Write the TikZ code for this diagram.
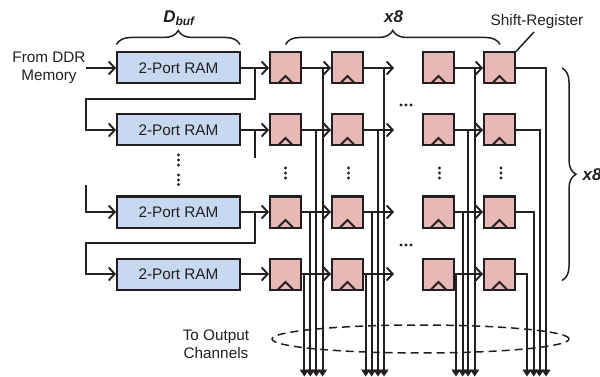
\documentclass[tikz,border=0pt]{standalone}
\usepackage{fontspec}
\setmainfont{Liberation Sans}
\usepackage{xcolor}
\usetikzlibrary{arrows.meta,decorations.pathreplacing,shapes.geometric}
\definecolor{ramblue}{HTML}{C6D9F0}
\definecolor{regpink}{HTML}{E6B9B4}
\definecolor{inkgray}{HTML}{231F20}

\begin{document}
\begin{tikzpicture}[x=1pt, y=-1pt, inkgray, font=\fontsize{15.3}{18}\selectfont, text=inkgray,
    ram/.style={draw=inkgray, fill=ramblue, line width=2pt, minimum width=123pt, minimum height=31pt, inner sep=0pt},
    reg/.style={draw=inkgray, fill=regpink, line width=2pt, minimum size=31pt, inner sep=0pt},
    wire/.style={line width=2pt},
    into/.style={wire, -{Straight Barb[length=6pt,width=13pt,line width=1.9pt]}},
    outbus/.style={wire, -{Triangle[length=7pt,width=9pt]}},
    curly/.style={line width=1.5pt, decorate, decoration={brace, amplitude=14pt}},
    lab/.style={align=center, inner sep=0pt}
]
\useasboundingbox (0,0) rectangle (600,377);

% RAMs and registers
\node[ram] (ram1) at (178.5, 68) {2-Port RAM};
\node[ram] (ram2) at (178.5, 130) {2-Port RAM};
\node[ram] (ram3) at (178.5, 212) {2-Port RAM};
\node[ram] (ram4) at (178.5, 274) {2-Port RAM};
\foreach \r/\y in {1/68, 2/130, 3/212, 4/274} {
    \foreach \c/\x in {1/285.5, 2/347.5, 3/438.5, 4/499.5} {
        \node[reg] (reg\r\c) at (\x, \y) {};
        \draw[line width=2pt] (\x-7.5, \y+15.5) -- (\x, \y+8) -- (\x+7.5, \y+15.5);
    }
}

% free wire ends
\foreach \r/\xa/\xb/\xc/\xd in {1/322.5/384/474.7/546, 2/316.3/378/468/539.5, 3/310.3/371.7/462.7/533.7, 4/304.3/365.7/456/527} {
    \coordinate (out\r1) at (\xa, 376.5);
    \coordinate (out\r2) at (\xb, 376.5);
    \coordinate (out\r3) at (\xc, 376.5);
    \coordinate (out\r4) at (\xd, 376.5);
    \draw[outbus] (reg\r1.east) -| (out\r1);
    \draw[outbus] (reg\r2.east) -| (out\r2);
    \draw[outbus] (reg\r3.east) -| (out\r3);
    \draw[outbus] (reg\r4.east) -| (out\r4);
}
\foreach \r/\y in {1/68, 2/130, 3/212, 4/274} {
    \coordinate (open\r) at (394, \y);
    \draw[into] (ram\r) -- (reg\r1);
    \draw[into] (reg\r1) -- (reg\r2);
    \draw[into] (reg\r2) -- (open\r);
    \draw[into] (reg\r3) -- (reg\r4);
}

% input and cascade
\node[lab] (ddr) at (49, 68) {From DDR\\Memory};
\draw[into] (ddr.east |- ram1) -- (ram1);
\coordinate (tap1) at (255, 68);
\coordinate (tap2) at (255, 130);
\coordinate (tap3) at (255, 212);
\coordinate (stub2) at (255, 158);
\coordinate (stub3) at (86, 185);
\draw[into] (tap1) |- (86, 99) |- (ram2);
\draw[wire] (tap2) -- (stub2);
\draw[into] (stub3) |- (ram3);
\draw[into] (tap3) |- (86, 243) |- (ram4);

% dots
\foreach \y in {155, 160, 165, 175, 180, 184.5} {
    \fill (178.5, \y) circle (1.6pt);
}
\foreach \x in {285.5, 348.5, 439.5, 501} {
    \foreach \y in {168, 173, 178} {
        \fill (\x, \y) circle (1.6pt);
    }
}
\foreach \y in {105, 245} {
    \foreach \x in {401, 406, 411} {
        \fill (\x, \y) circle (1.6pt);
    }
}

% braces
\coordinate (bra) at (116.5, 44.5);
\coordinate (brb) at (240, 44.5);
\coordinate (brc) at (285.5, 44.5);
\coordinate (brd) at (500, 44.5);
\coordinate (bre) at (562, 68);
\coordinate (brf) at (562, 280.5);
\draw[curly] (bra) -- (brb);
\draw[curly] (brc) -- (brd);
\draw[curly] (bre) -- (brf);
\node[lab, font=\fontsize{17}{20}\selectfont\bfseries\itshape] (dbuf) at (179, 18) {D\textsubscript{buf}};
\node[lab, font=\fontsize{17}{20}\selectfont\bfseries\itshape] (xcols) at (393.5, 17) {x8};
\node[lab, font=\fontsize{17}{20}\selectfont\bfseries\itshape] (xrows) at (592, 174.5) {x8};

% labels
\node[lab] (shift) at (537, 22) {Shift-Register};
\draw[line width=1.5pt] (reg14.north east) -- (534, 32);
\node[lab] (toout) at (216, 344) {To Output\\Channels};
\node[draw, ellipse, line width=1.5pt, minimum width=297pt, minimum height=28pt, inner sep=0pt, dash pattern=on 8pt off 5pt] (chan) at (420.5, 339) {};
\end{tikzpicture}
\end{document}
